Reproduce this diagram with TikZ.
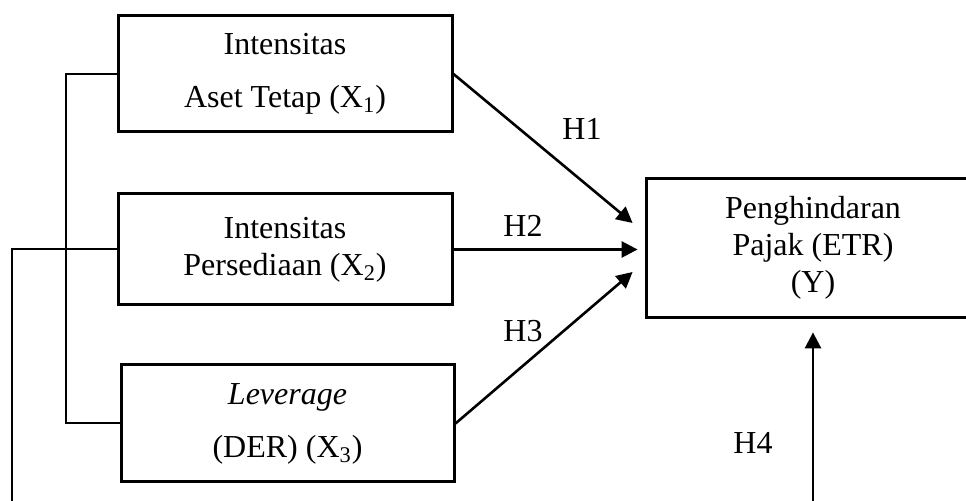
\documentclass[tikz,border=0pt]{standalone}
\usepackage{fontspec}
\setmainfont{Liberation Serif}
\usetikzlibrary{arrows.meta}

\begin{document}
\begin{tikzpicture}[x=0.5pt, y=-0.5pt,
    >={Triangle[length=8pt,width=8pt]},
    every node/.style={font=\fontsize{16}{18.5}\selectfont},
    box/.style={draw, line width=1.5pt, align=center, inner sep=0pt},
    link/.style={line width=1pt},
    arr/.style={->, line width=1.3pt}]

    \clip (0,0) rectangle (966,501);

    % Variabel independen
    \node[box, minimum width=167pt, minimum height=58pt] (X1) at (285,74)
        {Intensitas\\[8pt]Aset Tetap (X\textsubscript{1})};
    \node[box, minimum width=167pt, minimum height=55.5pt] (X2) at (285,249.5)
        {Intensitas\\Persediaan (X\textsubscript{2})};
    \node[box, minimum width=166.5pt, minimum height=58.5pt] (X3) at (287.5,423.5)
        {\textit{Leverage}\\[8pt](DER) (X\textsubscript{3})};

    % Variabel dependen (sisi kanan terpotong)
    \node[align=center, inner sep=0pt, minimum width=166pt, minimum height=69pt] (Y) at (813,248)
        {Penghindaran\\Pajak (ETR)\\(Y)};
    \draw[line width=1.5pt] ([xshift=20pt]Y.north east) -| (Y.south west) -- ([xshift=20pt]Y.south east);

    % Panah hipotesis
    \draw[arr] (X1.east) -- ([shift={(-14,-25)}]Y.west);
    \draw[arr] (X2.east) -- ([shift={(-9,1.5)}]Y.west);
    \draw[arr] (X3.east) -- ([shift={(-14,24)}]Y.west);

    \node (h1) at (582,129) {H1};
    \node (h2) at (523,226) {H2};
    \node (h3) at (523,331) {H3};
    \node (h4) at (753,443) {H4};

    % Garis penghubung kiri
    \coordinate (brk) at (66,249);
    \coordinate (fb) at (12,520);
    \coordinate (fbY) at (813,520);
    \draw[link] (X1.west) -| (brk) |- (X3.west);
    \draw[link] (X2.west) -| (fb);
    \draw[arr] (fbY) -- ([shift={(0,15)}]Y.south);
\end{tikzpicture}
\end{document}
